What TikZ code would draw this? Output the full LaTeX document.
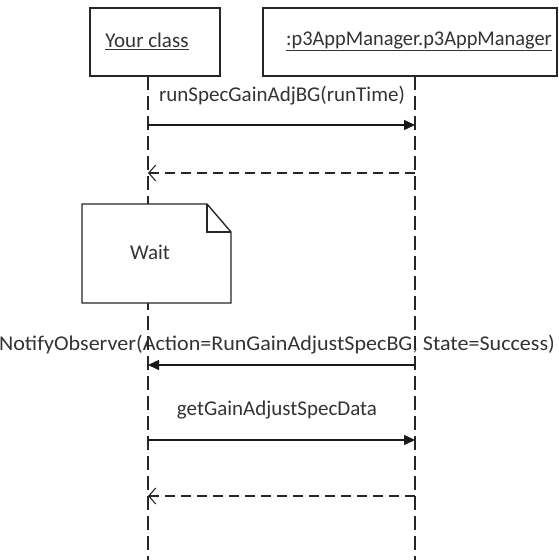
\documentclass[tikz,border=0pt]{standalone}
\usepackage{fontspec}
\setmainfont{Carlito}
\usetikzlibrary{arrows.meta}
\begin{document}
\begin{tikzpicture}[x=1pt,y=-1pt,
  txt/.style={font=\fontsize{21}{25}\selectfont, text=black!80, inner sep=0pt},
  obj/.style={draw=black!85, line width=1.4pt, minimum height=68pt, fill=white},
  life/.style={draw=black!85, line width=1.2pt, dash pattern=on 14pt off 6pt},
  call/.style={draw=black!90, line width=1.4pt, -{Triangle[length=11pt,width=10pt]}},
  ret/.style={draw=black!85, line width=1.1pt, dash pattern=on 10pt off 6pt,
    -{Straight Barb[length=7pt,width=16pt,line width=1.1pt]}},
  note/.style={draw=black!85, line width=1.4pt, fill=white, line join=miter}
]
\useasboundingbox (0,0) rectangle (558,560);

% participants
\node[obj, minimum width=130pt] (yc) at (155,42) {};
\node[obj, minimum width=294pt] (am) at (410,42) {};
\node[txt] (ycName) at (147,41) {\underline{Your class}};
\node[txt] (amName) at (419,41) {\scalebox{0.97}[1]{\underline{:p3AppManager.p3AppManager}}};

% lifelines
\coordinate (ycTop) at (148,76);
\coordinate (ycEnd) at (148,560);
\coordinate (amTop) at (415,76);
\coordinate (amEnd) at (415,560);
\draw[life] (ycTop) -- (ycEnd);
\draw[life] (amTop) -- (amEnd);

% note on the caller's lifeline
\coordinate (nA) at (82,204);
\coordinate (nB) at (207,204);
\coordinate (nC) at (231,232);
\coordinate (nD) at (231,303);
\coordinate (nE) at (82,303);
\coordinate (nF) at (207,232);
\draw[note] (nA) -- (nB) -- (nC) -- (nD) -- (nE) -- cycle;
\draw[note, fill=none] (nB) -- (nF) -- (nC);
\node[txt] (wait) at (150,252) {Wait};

% message endpoints
\coordinate (m1a) at (148,125); \coordinate (m1b) at (415,125);
\coordinate (r1a) at (415,173); \coordinate (r1b) at (148,173);
\coordinate (m2a) at (415,365); \coordinate (m2b) at (148,365);
\coordinate (m3a) at (148,440); \coordinate (m3b) at (415,440);
\coordinate (r3a) at (415,496); \coordinate (r3b) at (148,496);

% messages
\draw[call] (m1a) -- (m1b);
\node[txt] (l1) at (282,96) {runSpecGainAdjBG(runTime)};
\draw[ret] (r1a) -- (r1b);

\draw[call] (m2a) -- (m2b);
\node[txt] (l2) at (277,345) {\scalebox{1.05}[1]{NotifyObserver(Action=RunGainAdjustSpecBG, State=Success)}};

\draw[call] (m3a) -- (m3b);
\node[txt] (l3) at (277,410) {getGainAdjustSpecData};
\draw[ret] (r3a) -- (r3b);
\end{tikzpicture}
\end{document}
